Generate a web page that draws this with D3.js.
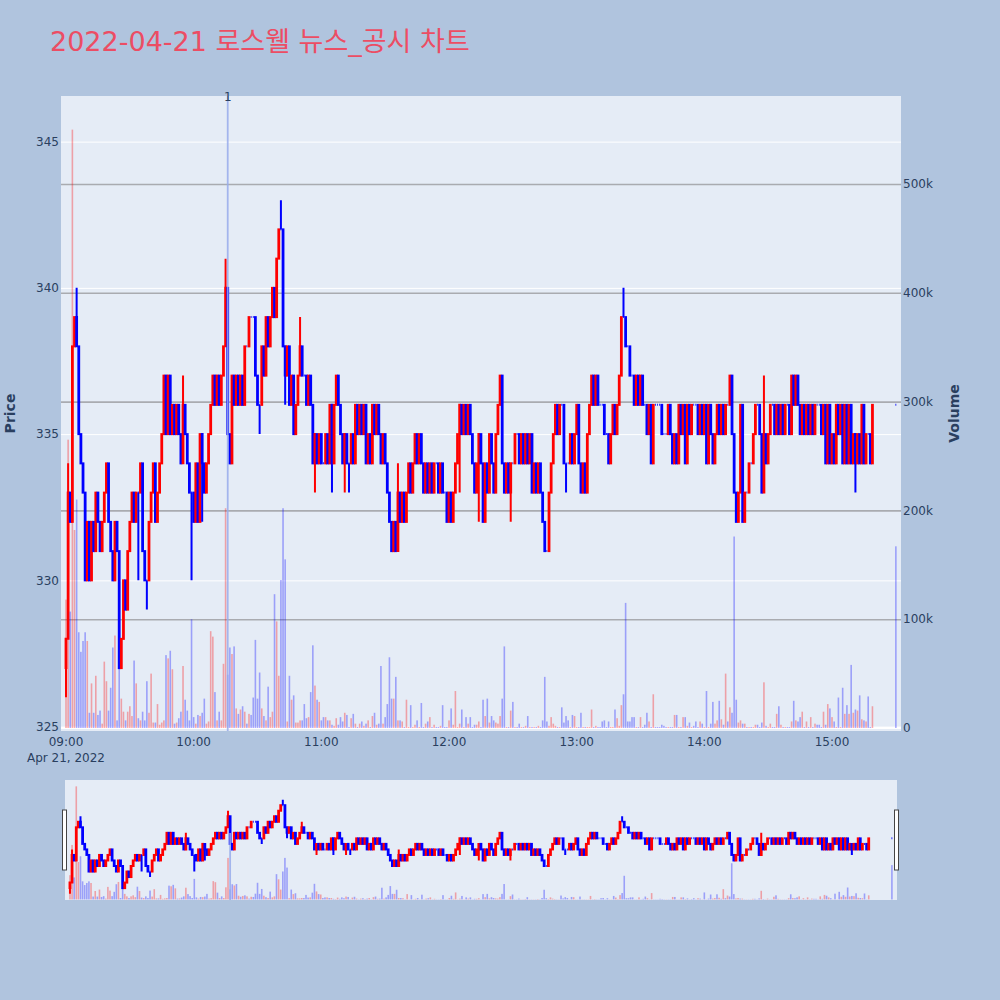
<!DOCTYPE html>
<html>
<head>
<meta charset="utf-8">
<script src="https://cdn.jsdelivr.net/npm/d3@7"></script>
<style>
  body { margin: 0; background: #b0c4de; }
  svg { display: block; font-family: "DejaVu Sans", "Noto Sans CJK KR", sans-serif; }
</style>
</head>
<body>
<svg id="chart" width="1000" height="1000"></svg>
<script>
// one candle per minute from 09:00, open = previous close
const firstOpen = 327;
const closes = [
  328,333,332,338,339,338,335,334,333,330, 332,330,332,331,333,332,331,332,333,334,
  332,331,330,332,331,327,328,330,329,331, 332,333,332,333,333,334,331,330,330,332,
  333,334,332,333,334,335,337,335,337,335, 336,335,336,335,334,336,335,334,333,333,
  332,334,332,335,334,333,334,335,336,337, 336,337,336,337,338,340,335,334,337,336,
  337,336,337,336,338,338,339,339,339,337, 336,336,338,337,339,338,339,340,339,341,
  342,342,338,337,338,336,337,335,336,337, 338,337,337,336,337,336,334,335,334,335,
  334,334,335,334,336,334,336,337,336,335, 334,335,334,334,335,334,336,335,336,335,
  336,334,335,334,336,335,336,335,334,335, 334,333,332,331,332,331,333,332,333,332,
  333,334,333,334,335,334,335,334,333,334, 333,334,333,334,334,333,334,333,333,332,
  333,332,333,334,335,336,335,336,335,336, 335,334,333,334,335,334,332,334,333,335,
  334,333,335,336,337,334,333,334,333,334, 334,335,335,334,335,334,335,334,335,333,
  334,333,334,333,332,331,331,333,334,335, 336,335,336,336,334,334,334,335,334,335,
  336,334,333,334,333,335,336,337,336,337, 336,336,336,335,335,334,335,336,335,336,
  337,339,339,338,338,337,337,336,337,336, 337,336,336,335,336,334,336,336,336,336,
  335,335,335,336,335,334,335,334,336,335, 336,334,336,335,336,336,336,335,336,335,
  336,334,336,335,334,335,336,335,336,335, 336,336,337,335,333,332,333,336,332,333,
  333,334,334,335,336,336,335,333,335,334, 335,336,336,335,336,335,336,335,336,336,
  335,337,336,337,336,335,336,335,336,335, 336,335,336,336,336,335,336,334,336,334,
  335,334,336,335,336,334,336,334,336,334, 335,334,335,334,336,334,335,335,334,336,
  336
];
// volume in thousands of shares, same order
const volumesK = [
  118,265,107,550,182,210,88,70,80,88, 80,14,41,14,48,12,16,4,61,43,
  16,37,74,85,7,57,27,15,7,15, 20,11,62,41,9,7,15,7,43,14,
  50,5,5,22,3,5,7,67,64,71, 54,4,5,9,15,57,26,16,7,100,
  10,4,12,11,14,27,4,6,89,84, 33,7,15,7,59,202,49,74,68,75,
  18,13,17,20,15,4,13,12,28,81, 27,51,18,11,7,38,10,15,123,98,
  48,136,202,155,6,48,26,30,5,5, 7,7,22,9,10,33,76,39,26,24,
  7,10,10,7,7,3,2,9,3,10, 6,14,12,1,9,13,4,1,4,6,
  2,4,7,1,11,14,3,4,57,4, 10,22,65,27,27,47,7,7,6,1,
  26,1,21,1,3,7,1,23,1,4, 6,10,1,3,1,1,2,21,1,1,
  7,18,3,34,1,4,17,1,10,4, 10,1,3,3,6,1,26,11,27,5,
  11,7,5,4,11,27,75,1,1,16, 24,1,1,4,1,1,2,11,1,1,
  1,1,2,1,7,47,6,2,10,4, 2,1,1,19,5,11,7,1,12,11,
  1,1,14,1,1,1,1,17,1,2, 1,1,6,7,1,6,1,1,17,9,
  2,21,31,115,6,6,10,10,1,1, 10,1,3,14,6,1,31,1,1,1,
  3,2,1,1,1,1,12,12,1,1, 10,10,2,5,1,2,6,1,6,4,
  1,34,1,4,24,4,7,25,8,3, 50,6,19,14,176,26,5,7,4,4,
  1,1,1,1,3,3,1,5,42,2, 1,4,1,1,13,20,3,1,1,1,
  1,6,25,7,6,10,15,1,6,1, 10,1,4,3,3,1,15,3,22,18,
  10,6,1,28,1,37,13,21,13,58, 14,17,16,30,8,7,6,29,1,20,
  167
];
// wicks beyond the candle body: [minute index, price]
const wickHigh = [[1,334],[5,340],[55,337],[75,341],[101,343],[110,339],[156,334],[262,340],[328,337]];
const wickLow = [[0,326],[34,330],[38,329],[59,330],[64,332],[91,335],[103,336],[117,333],
  [125,333],[131,333],[133,333],[185,333],[194,332],[209,332],[235,333],[371,333]];
const auctionMinute = 390;        // last entry is the 15:30 closing auction
const newsMinute = 76, newsLabel = "1";
const priceTicks = [325, 330, 335, 340, 345];
const volumeTicks = [0, 100, 200, 300, 400, 500];
const titleText = "2022-04-21 로스웰 뉴스_공시 차트";

const INC = "#ff0000", DEC = "#0000ff", TXT = "#2a3f5f";
const svg = d3.select("#chart");
const plot = { l: 61, r: 901, t: 96, b: 731 };
const slide = { l: 65, r: 897, t: 780, b: 900 };

const day0 = new Date(2022, 3, 21, 9, 0);
const hi = new Map(wickHigh), lo = new Map(wickLow);
const candles = closes.map((c, i) => {
  const m = i < closes.length - 1 ? i : auctionMinute;
  const o = i === 0 ? firstOpen : closes[i - 1];
  return {
    t: new Date(day0.getTime() + m * 60000), o, c,
    h: Math.max(o, c, hi.get(i) || 0),
    l: Math.min(o, c, lo.get(i) || 999),
    v: volumesK[i]
  };
});

const tDomain = [new Date(2022, 3, 21, 8, 57, 39), new Date(2022, 3, 21, 15, 32, 25)];
const pDomain = [324.85, 346.56], vDomain = [-2.76, 580.9];

const x = d3.scaleTime().domain(tDomain).range([plot.l, plot.r]);
const yP = d3.scaleLinear().domain(pDomain).range([plot.b, plot.t]);
const yV = d3.scaleLinear().domain(vDomain).range([plot.b, plot.t]);

const xs = d3.scaleTime().domain(tDomain).range([slide.l, slide.r]);
const ysP = d3.scaleLinear().domain(pDomain).range([slide.b, slide.t]);
const ysV = d3.scaleLinear().domain(vDomain).range([slide.b, slide.t]);

// title
svg.append("text")
  .attr("x", 50).attr("y", 51)
  .attr("font-size", 27).attr("fill", "#ec4d64")
  .text(titleText);

// plot background
svg.append("rect")
  .attr("x", plot.l).attr("y", plot.t)
  .attr("width", plot.r - plot.l).attr("height", plot.b - plot.t)
  .attr("fill", "#e5ecf6");

const defs = svg.append("defs");
defs.append("clipPath").attr("id", "clipMain").append("rect")
  .attr("x", plot.l).attr("y", plot.t).attr("width", plot.r - plot.l).attr("height", plot.b - plot.t);
defs.append("clipPath").attr("id", "clipSlide").append("rect")
  .attr("x", slide.l).attr("y", slide.t).attr("width", slide.r - slide.l).attr("height", slide.b - slide.t);

// price grid (white) and volume grid (gray)
svg.append("g")
  .attr("transform", "translate(" + plot.l + ",0)")
  .call(d3.axisLeft(yP).tickValues(priceTicks).tickSize(-(plot.r - plot.l)).tickFormat(""))
  .call(g => g.select(".domain").remove())
  .call(g => g.selectAll("line").attr("stroke", "#ffffff").attr("stroke-width", 1));

svg.append("g")
  .attr("transform", "translate(" + plot.l + ",0)")
  .call(d3.axisLeft(yV).tickValues(volumeTicks.slice(1)).tickSize(-(plot.r - plot.l)).tickFormat(""))
  .call(g => g.select(".domain").remove())
  .call(g => g.selectAll("line").attr("stroke", "#a9abb0").attr("stroke-width", 1.6));

svg.append("line")
  .attr("x1", plot.l).attr("x2", plot.r)
  .attr("y1", yV(0)).attr("y2", yV(0))
  .attr("stroke", "#ffffff").attr("stroke-width", 2);

function candlePath(d, xf, yf) {
  const cx = xf(d.t), hw = 0.4;
  const yo = yf(d.o), yc = yf(d.c);
  const top = Math.min(yo, yc), bot = Math.max(yo, yc);
  let p = "M" + (cx - hw) + "," + top + "H" + (cx + hw) + "V" + bot + "H" + (cx - hw) + "Z";
  if (d.h > Math.max(d.o, d.c)) p += "M" + cx + "," + yf(d.h) + "V" + top;
  if (d.l < Math.min(d.o, d.c)) p += "M" + cx + "," + bot + "V" + yf(d.l);
  return p;
}

function drawTraces(layer, xf, yPf, yVf, newsTop) {
  layer.selectAll("path.candle")
    .data(candles)
    .join("path")
    .attr("class", "candle")
    .attr("d", d => candlePath(d, xf, yPf))
    .attr("fill", d => d.c > d.o ? INC : DEC)
    .attr("stroke", d => d.c > d.o ? INC : DEC)
    .attr("stroke-width", 2);

  layer.selectAll("rect.vol")
    .data(candles.filter(d => d.v > 0))
    .join("rect")
    .attr("class", "vol")
    .attr("x", d => xf(d.t) - 0.8)
    .attr("width", 1.6)
    .attr("y", d => yVf(d.v))
    .attr("height", d => yVf(0) - yVf(d.v))
    .attr("fill", d => d.c > d.o ? INC : DEC)
    .attr("opacity", 0.32);

  const nx = xf(candles[newsMinute].t);
  layer.append("rect")
    .attr("x", nx - 0.9).attr("width", 1.8)
    .attr("y", newsTop).attr("height", yVf.range()[0] - newsTop)
    .attr("fill", "#98aceb").attr("opacity", 0.85);
}

const main = svg.append("g").attr("clip-path", "url(#clipMain)");
drawTraces(main, x, yP, yV, plot.t);

svg.append("text")
  .attr("x", x(candles[newsMinute].t)).attr("y", 101)
  .attr("text-anchor", "middle").attr("font-size", 12).attr("fill", TXT)
  .text(newsLabel);

// price axis labels
svg.append("g").selectAll("text")
  .data(priceTicks)
  .join("text")
  .attr("x", 59).attr("y", d => yP(d)).attr("dy", "0.35em")
  .attr("text-anchor", "end").attr("font-size", 12).attr("fill", TXT)
  .text(d => d);

// volume axis labels
svg.append("g").selectAll("text")
  .data(volumeTicks)
  .join("text")
  .attr("x", 903).attr("y", d => yV(d)).attr("dy", "0.35em")
  .attr("text-anchor", "start").attr("font-size", 12).attr("fill", TXT)
  .text(d => d === 0 ? "0" : d + "k");

// time axis labels
const hourTicks = x.ticks(d3.timeHour.every(1));
svg.append("g").selectAll("text")
  .data(hourTicks)
  .join("text")
  .attr("x", d => x(d)).attr("y", 746)
  .attr("text-anchor", "middle").attr("font-size", 12).attr("fill", TXT)
  .text(d3.timeFormat("%H:%M"));
svg.append("text")
  .attr("x", x(hourTicks[0])).attr("y", 762)
  .attr("text-anchor", "middle").attr("font-size", 12).attr("fill", TXT)
  .text(d3.timeFormat("%b %-d, %Y")(hourTicks[0]));

// axis titles
svg.append("text")
  .attr("transform", "translate(10," + (plot.t + plot.b) / 2 + ") rotate(-90)")
  .attr("dy", "0.35em").attr("text-anchor", "middle")
  .attr("font-size", 14).attr("font-weight", "bold").attr("fill", TXT)
  .text("Price");
svg.append("text")
  .attr("transform", "translate(954," + (plot.t + plot.b) / 2 + ") rotate(-90)")
  .attr("dy", "0.35em").attr("text-anchor", "middle")
  .attr("font-size", 14).attr("font-weight", "bold").attr("fill", TXT)
  .text("Volume");

// range slider
svg.append("rect")
  .attr("x", slide.l).attr("y", slide.t)
  .attr("width", slide.r - slide.l).attr("height", slide.b - slide.t)
  .attr("fill", "#e5ecf6");
const mini = svg.append("g").attr("clip-path", "url(#clipSlide)");
drawTraces(mini, xs, ysP, ysV, 833);

[slide.l - 2.5, slide.r - 2.5].forEach(gx => {
  svg.append("rect")
    .attr("x", gx).attr("y", 810).attr("width", 4).attr("height", 60)
    .attr("fill", "#ffffff").attr("stroke", "#444").attr("stroke-width", 1);
});
</script>
</body>
</html>
